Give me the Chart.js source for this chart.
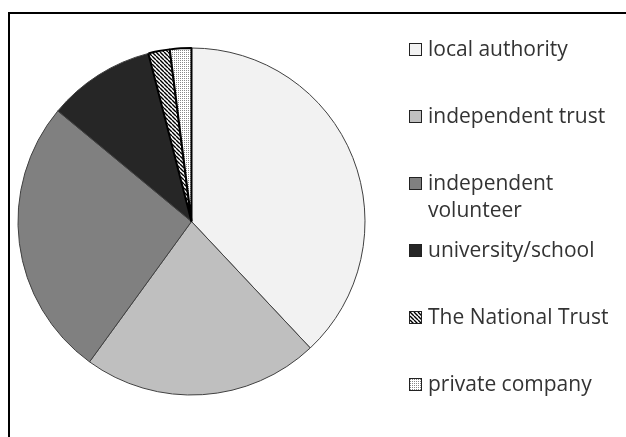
<!DOCTYPE html>
<html>
<head>
<meta charset="utf-8">
<script src="https://cdn.jsdelivr.net/npm/chart.js@4.4.1/dist/chart.umd.min.js"></script>
<style>
html, body { margin: 0; padding: 0; background: #fff; width: 626px; height: 437px; overflow: hidden; }
#wrap { position: relative; width: 626px; height: 437px; }
#frame { position: absolute; left: 8px; top: 12px; width: 700px; height: 500px; border: 2px solid #000; }
#pie { position: absolute; left: 0; top: 0; }
#legend { position: absolute; left: 409px; top: 35px; margin: 0; padding: 0; list-style: none;
          font-family: "Open Sans", Lato, sans-serif; font-size: 21px; color: #333; }
#legend li { height: 67px; display: flex; align-items: flex-start; }
#legend .box { width: 11px; height: 11px; border: 1px solid #222; margin-top: 8px; margin-right: 6px; flex: none; }
#legend .txt { width: 200px; line-height: 27px; }
</style>
</head>
<body>
<div id="wrap">
  <div id="frame"></div>
  <canvas id="pie" width="626" height="437"></canvas>
  <ul id="legend"></ul>
</div>
<script>
// pie data (roughly percent)
const categories = ["local authority", "independent trust", "independent volunteer",
                    "university/school", "The National Trust", "private company"];
const shares = [38, 22, 26, 10, 2, 2];

// fill patterns for the two small slices
function hatchPattern() {
    const s = 4;
    const c = document.createElement("canvas");
    c.width = s; c.height = s;
    const g = c.getContext("2d");
    g.fillStyle = "#fff";
    g.fillRect(0, 0, s, s);
    g.strokeStyle = "#000";
    g.lineWidth = 1.4;
    g.beginPath();
    for (let k = -1; k <= 1; k++) {
        g.moveTo(0, k * s);
        g.lineTo(s, s + k * s);
    }
    g.stroke();
    return c;
}

function dotPattern() {
    const c = document.createElement("canvas");
    c.width = 4; c.height = 4;
    const g = c.getContext("2d");
    g.fillStyle = "#fff";
    g.fillRect(0, 0, 4, 4);
    g.fillStyle = "#888";
    g.fillRect(0, 0, 1, 1);
    g.fillRect(2, 0, 1, 1);
    g.fillRect(0, 2, 1, 1);
    g.fillRect(2, 2, 1, 1);
    return c;
}

const ctx = document.getElementById("pie").getContext("2d");
const hatch = hatchPattern();
const dots = dotPattern();

const fills = [
    "#f2f2f2",
    "#bfbfbf",
    "#808080",
    "#262626",
    ctx.createPattern(hatch, "repeat"),
    ctx.createPattern(dots, "repeat")
];
const swatches = [
    "#f2f2f2", "#bfbfbf", "#808080", "#262626",
    "url(" + hatch.toDataURL() + ")",
    "url(" + dots.toDataURL() + ")"
];

const pieChart = new Chart(ctx, {
    type: "pie",
    data: {
        labels: categories,
        datasets: [{
            data: shares,
            backgroundColor: fills,
            borderColor: ["#404040", "#404040", "#404040", "#404040", "#000", "#000"],
            borderWidth: [1, 1, 1, 1, 2, 2]
        }]
    },
    options: {
        responsive: false,
        animation: false,
        events: [],
        layout: {
            padding: { left: 17, top: 47, right: 260, bottom: 41 }
        },
        plugins: {
            legend: { display: false },
            tooltip: { enabled: false },
            title: { display: false }
        }
    }
});

// legend as html so the long label can wrap like the original
const legend = document.getElementById("legend");
categories.forEach(function (name, i) {
    const li = document.createElement("li");
    const box = document.createElement("span");
    box.className = "box";
    box.style.background = swatches[i];
    const txt = document.createElement("span");
    txt.className = "txt";
    txt.textContent = name;
    li.appendChild(box);
    li.appendChild(txt);
    legend.appendChild(li);
});
</script>
</body>
</html>
